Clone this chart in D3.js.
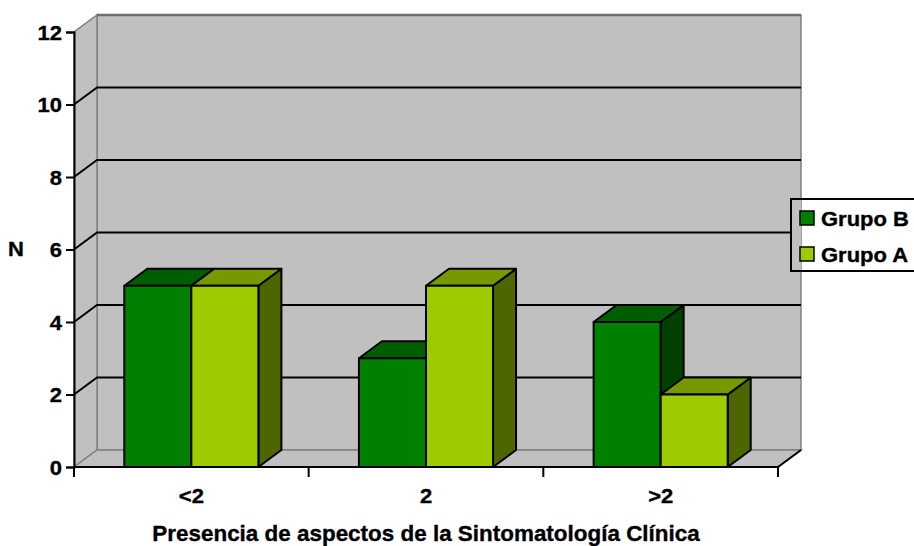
<!DOCTYPE html>
<html>
<head>
<meta charset="utf-8">
<script src="https://cdn.jsdelivr.net/npm/d3@7"></script>
<style>
  html, body { margin: 0; padding: 0; background: #fff; }
  svg { display: block; }
  text { font-family: "Liberation Sans", Arial, sans-serif; font-weight: bold; fill: #000;
         stroke: #000; stroke-width: 0.35px; paint-order: stroke; }
</style>
</head>
<body>
<svg id="chart" width="914" height="546"></svg>
<script>
// ---- data ----
const categories = ["<2", "2", ">2"];
const seriesNames = ["Grupo B", "Grupo A"];
const grupoB = [5, 3, 4];
const grupoA = [5, 5, 2];
const yTicks = [0, 2, 4, 6, 8, 10, 12];
const yLabel = "N";
const xLabel = "Presencia de aspectos de la Sintomatología Clínica";

// ---- styling ----
const colors = {
  "Grupo B": { front: "#008000", top: "#005e00", side: "#004000" },
  "Grupo A": { front: "#9ccc00", top: "#779900", side: "#4d6600" }
};
const wallFill = "#c0c0c0";
const wallEdge = "#808080";
const labelSize = 20;
const stretch = 1.1;        // horizontal stretch of the lettering
const depth = { dx: 23, dy: -17 };

const svg = d3.select("#chart");

const x0 = d3.scaleBand().domain(categories).range([74, 778]).paddingInner(0).paddingOuter(0);
const x1 = d3.scaleBand().domain(seriesNames).range([0, x0.bandwidth()]).paddingInner(0).paddingOuter(0.75);
const y = d3.scaleLinear().domain([0, 12]).range([467, 32]);

const [xL, xR] = x0.range();
const y0 = y(0), yTop = y(12);
const P = (px, py) => `${px},${py}`;
const back = (px, py) => [px + depth.dx, py + depth.dy];

// ---- walls and floor ----
const gWalls = svg.append("g");
// back wall
gWalls.append("polygon")
  .attr("points", [P(...back(xL, yTop)), P(...back(xR, yTop)), P(...back(xR, y0)), P(...back(xL, y0))].join(" "))
  .attr("fill", wallFill).attr("stroke", wallEdge).attr("stroke-width", 1.5);
// side wall
gWalls.append("polygon")
  .attr("points", [P(xL, y0), P(xL, yTop), P(...back(xL, yTop)), P(...back(xL, y0))].join(" "))
  .attr("fill", wallFill).attr("stroke", wallEdge).attr("stroke-width", 1.5);
// floor
gWalls.append("polygon")
  .attr("points", [P(xL, y0), P(xR, y0), P(...back(xR, y0)), P(...back(xL, y0))].join(" "))
  .attr("fill", wallFill).attr("stroke", wallEdge).attr("stroke-width", 1.5);
// heavier top edge of the back wall
gWalls.append("line")
  .attr("x1", back(xL, yTop)[0]).attr("y1", back(xL, yTop)[1])
  .attr("x2", back(xR, yTop)[0]).attr("y2", back(xR, yTop)[1])
  .attr("stroke", "#6e6e6e").attr("stroke-width", 2.5);

// ---- gridlines (side wall diagonal + back wall horizontal) ----
const gridVals = yTicks.filter(v => v > 0 && v < 12);
const gGrid = svg.append("g").attr("stroke", "#000").attr("stroke-width", 2).attr("fill", "none");
gGrid.selectAll("polyline").data(gridVals).join("polyline")
  .attr("points", v => [P(xL, y(v)), P(...back(xL, y(v))), P(...back(xR, y(v)))].join(" "));

// ---- bars ----
const data = categories.map((c, i) => ({ cat: c, values: [
  { name: "Grupo B", value: grupoB[i] },
  { name: "Grupo A", value: grupoA[i] }
]}));

const gBars = svg.append("g").attr("stroke", "#000").attr("stroke-width", 2).attr("stroke-linejoin", "round");
data.forEach(d => {
  d.values.forEach(s => {
    const bx = x0(d.cat) + x1(s.name);
    const bw = x1.bandwidth();
    const yt = y(s.value);
    const c = colors[s.name];
    // side face
    gBars.append("polygon")
      .attr("points", [P(bx + bw, y0), P(bx + bw, yt), P(...back(bx + bw, yt)), P(...back(bx + bw, y0))].join(" "))
      .attr("fill", c.side);
    // top face
    gBars.append("polygon")
      .attr("points", [P(bx, yt), P(bx + bw, yt), P(...back(bx + bw, yt)), P(...back(bx, yt))].join(" "))
      .attr("fill", c.top);
    // front face
    gBars.append("rect")
      .attr("x", bx).attr("y", yt).attr("width", bw).attr("height", y0 - yt)
      .attr("fill", c.front);
  });
});

// ---- axes ----
const gAxes = svg.append("g");
// front floor edge and its right-hand diagonal
gAxes.append("line").attr("x1", xL).attr("y1", y0).attr("x2", xR).attr("y2", y0)
  .attr("stroke", "#000").attr("stroke-width", 2);
gAxes.append("line").attr("x1", xR).attr("y1", y0).attr("x2", back(xR, y0)[0]).attr("y2", back(xR, y0)[1])
  .attr("stroke", "#000").attr("stroke-width", 2);

// y axis
const yAxis = svg.append("g").attr("transform", `translate(${xL},0)`)
  .call(d3.axisLeft(y).tickValues(yTicks).tickSize(8).tickFormat(d3.format("d")));
yAxis.attr("font-family", null).attr("font-size", null);
yAxis.select(".domain").attr("stroke", "#000").attr("stroke-width", 2);
yAxis.selectAll(".tick line").attr("stroke", "#000").attr("stroke-width", 2);
yAxis.selectAll(".tick text")
  .attr("x", null).attr("dy", null)
  .attr("text-anchor", "end")
  .attr("font-size", labelSize)
  .attr("transform", `translate(-12,7) scale(${stretch},1)`);

// x axis: category labels centred, tick marks on category boundaries
const xAxis = svg.append("g").attr("transform", `translate(0,${y0})`)
  .call(d3.axisBottom(x0).tickSize(0).tickPadding(0));
xAxis.attr("font-family", null).attr("font-size", null);
xAxis.select(".domain").remove();
xAxis.selectAll(".tick text")
  .attr("y", null).attr("dy", null)
  .attr("text-anchor", "middle")
  .attr("font-size", labelSize)
  .attr("transform", `translate(0,36) scale(${stretch},1)`);
const bounds = categories.map(c => x0(c)).concat([xR]);
gAxes.selectAll("line.bound").data(bounds).join("line").attr("class", "bound")
  .attr("x1", d => d).attr("x2", d => d).attr("y1", y0).attr("y2", y0 + 10)
  .attr("stroke", "#000").attr("stroke-width", 2);

// axis titles
svg.append("text")
  .attr("text-anchor", "middle").attr("font-size", 22)
  .attr("transform", `translate(${(xL + xR) / 2},541) scale(1.02,1)`)
  .text(xLabel);
svg.append("text")
  .attr("text-anchor", "middle").attr("font-size", labelSize)
  .attr("transform", `translate(16,256) scale(${stretch},1)`)
  .text(yLabel);

// ---- legend ----
const lg = { x: 791, y: 199, w: 140, h: 72 };
const gLeg = svg.append("g");
// the legend box is transparent; where it overlaps the back wall, the wall shows through without gridlines
const wallRight = back(xR, y0)[0];
gLeg.append("rect")
  .attr("x", lg.x).attr("y", lg.y).attr("width", Math.max(0, wallRight - lg.x)).attr("height", lg.h)
  .attr("fill", wallFill);
gLeg.append("rect")
  .attr("x", lg.x).attr("y", lg.y).attr("width", lg.w).attr("height", lg.h)
  .attr("fill", "none").attr("stroke", "#000").attr("stroke-width", 2);
seriesNames.forEach((name, i) => {
  const ry = 211 + i * 36;
  gLeg.append("rect")
    .attr("x", 800).attr("y", ry).attr("width", 14).attr("height", 14)
    .attr("fill", colors[name].front).attr("stroke", "#000").attr("stroke-width", 1.5);
  gLeg.append("text")
    .attr("font-size", labelSize)
    .attr("transform", `translate(821,${ry + 15}) scale(${stretch},1)`)
    .text(name);
});
</script>
</body>
</html>
